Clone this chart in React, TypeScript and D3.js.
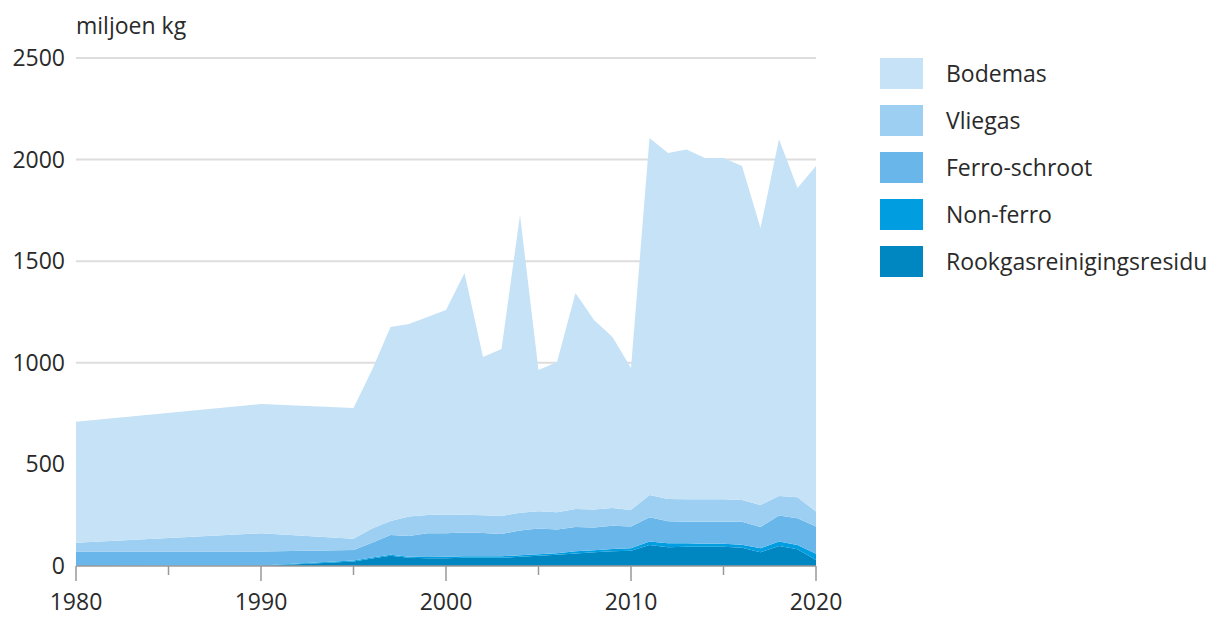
import * as d3 from "d3";

const years = [1980, 1990, 1995, 1996, 1997, 1998, 1999, 2000, 2001, 2002, 2003, 2004, 2005, 2006, 2007, 2008, 2009, 2010, 2011, 2012, 2013, 2014, 2015, 2016, 2017, 2018, 2019, 2020];
const rookgas = [0, 0, 22, 37, 50, 41, 38, 38, 40, 40, 40, 45, 50, 55, 62, 68, 72, 75, 103, 92, 95, 95, 95, 90, 68, 98, 82, 30];
const nonFerro = [0, 2, 5, 5, 5, 5, 6, 8, 8, 8, 8, 8, 8, 8, 10, 10, 12, 12, 17, 20, 17, 15, 15, 15, 19, 22, 21, 30];
const ferro = [71, 69, 52, 72, 97, 102, 117, 115, 117, 115, 110, 122, 127, 117, 120, 112, 114, 107, 120, 108, 106, 108, 108, 113, 105, 128, 132, 135];
const vliegas = [44, 90, 55, 71, 70, 95, 90, 93, 87, 87, 88, 87, 85, 85, 88, 88, 87, 82, 110, 110, 110, 110, 110, 107, 108, 97, 103, 73];
const bodemas = [595, 636, 643, 780, 954, 948, 974, 1006, 1190, 779, 822, 1465, 695, 739, 1063, 933, 842, 698, 1756, 1702, 1722, 1680, 1680, 1644, 1363, 1755, 1522, 1701];

const seriesNames = ["Rookgasreinigingsresidu", "Non-ferro", "Ferro-schroot", "Vliegas", "Bodemas"];
const seriesValues = [rookgas, nonFerro, ferro, vliegas, bodemas];
const colors = ["#0086c0", "#009ee0", "#69b7ea", "#9dcff3", "#c6e2f7"];
const yTicks = [0, 500, 1000, 1500, 2000, 2500];
const xMajor = [1980, 1990, 2000, 2010, 2020];
const xMinor = [1985, 1995, 2005, 2015];

const W = 1219;
const H = 619;
const font = "'Open Sans', 'DejaVu Sans', sans-serif";
const textColor = "#2a2a2a";
const fs = 23;

export default function App() {
  const rows = years.map((year, i) => {
    const row: Record<string, number> = { year };
    seriesNames.forEach((name, s) => (row[name] = seriesValues[s][i]));
    return row;
  });

  const stacked = d3.stack<Record<string, number>>().keys(seriesNames)(rows);

  const x = d3.scaleLinear().domain([1980, 2020]).range([76, 816]);
  const y = d3.scaleLinear().domain([0, 2500]).range([566, 58]);

  const area = d3
    .area<d3.SeriesPoint<Record<string, number>>>()
    .x((d) => x(d.data.year))
    .y0((d) => y(d[0]))
    .y1((d) => y(d[1]));

  // legend top-down: Bodemas first
  const legendItems = seriesNames.map((name, i) => ({ name, color: colors[i] })).reverse();

  return (
    <div style={{ position: "fixed", left: 0, top: 0 }}>
      <svg width={W} height={H} style={{ display: "block", background: "#fff" }}>
        <text x={76} y={34} fontFamily={font} fontSize={fs} fill={textColor}>
          miljoen kg
        </text>

        {yTicks.map((t) => (
          <g key={t}>
            {t > 0 && <line x1={76} x2={816} y1={y(t)} y2={y(t)} stroke="#dddddd" strokeWidth={2} />}
            <text
              x={65}
              y={y(t)}
              dy="0.35em"
              textAnchor="end"
              fontFamily={font}
              fontSize={fs}
              fill={textColor}
            >
              {t}
            </text>
          </g>
        ))}

        {stacked.map((layer, i) => (
          <path key={layer.key} d={area(layer) || ""} fill={colors[i]} />
        ))}

        <line x1={76} x2={816} y1={y(0)} y2={y(0)} stroke="#999999" strokeWidth={1.5} />
        {xMajor.map((yr) => (
          <g key={yr}>
            <line x1={x(yr)} x2={x(yr)} y1={y(0)} y2={y(0) + 15} stroke="#999999" strokeWidth={1.5} />
            <text x={x(yr)} y={610} textAnchor="middle" fontFamily={font} fontSize={fs} fill={textColor}>
              {yr}
            </text>
          </g>
        ))}
        {xMinor.map((yr) => (
          <line key={yr} x1={x(yr)} x2={x(yr)} y1={y(0)} y2={y(0) + 9} stroke="#999999" strokeWidth={1.5} />
        ))}

        {legendItems.map((item, i) => (
          <g key={item.name} transform={`translate(880,${58 + i * 47})`}>
            <rect width={43} height={31} fill={item.color} />
            <text x={66} y={15.5} dy="0.35em" fontFamily={font} fontSize={fs} fill={textColor}>
              {item.name}
            </text>
          </g>
        ))}
      </svg>
    </div>
  );
}
